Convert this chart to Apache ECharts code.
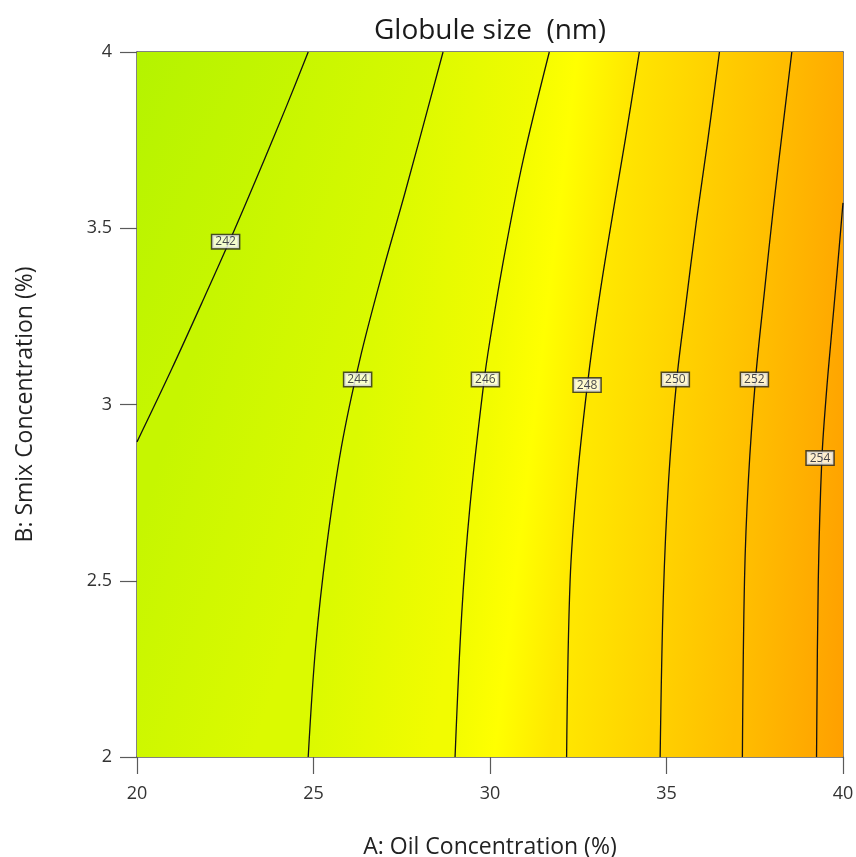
<!DOCTYPE html>
<html>
<head>
<meta charset="utf-8">
<title>Globule size contour</title>
<script src="https://cdn.jsdelivr.net/npm/echarts@6/dist/echarts.min.js"></script>
<style>
  html, body { margin: 0; padding: 0; background: #ffffff; }
  #chart { width: 856px; height: 857px; }
</style>
</head>
<body>
<div id="chart"></div>
<script>
// Response surface: globule size (nm) over oil and Smix concentration.
const xTicks = [20, 25, 30, 35, 40];
const yTicks = [2, 2.5, 3, 3.5, 4];

const levels = [242, 244, 246, 248, 250, 252, 254];

// Contour paths [oil %, Smix %], each running from its lower/left end to its upper/right end.
const contour242 = [[20.0, 2.894], [20.98, 3.1], [21.89, 3.3], [22.78, 3.5], [23.63, 3.7], [24.25, 3.85], [24.85, 4.0]];
const contour244 = [[24.85, 2.0], [25.06, 2.312], [25.37, 2.596], [25.79, 2.879], [26.31, 3.126], [26.95, 3.373], [27.59, 3.6], [28.67, 4.0]];
const contour246 = [[29.01, 2.0], [29.2, 2.408], [29.43, 2.709], [29.81, 3.05], [30.0, 3.183], [30.42, 3.43], [30.94, 3.694], [31.68, 4.0]];
const contour248 = [[32.17, 2.0], [32.27, 2.502], [32.47, 2.786], [32.8, 3.089], [33.13, 3.325], [33.51, 3.56], [33.83, 3.75], [34.23, 4.0]];
const contour250 = [[34.82, 2.0], [34.91, 2.454], [35.06, 2.786], [35.29, 3.07], [35.54, 3.277], [35.84, 3.515], [36.17, 3.75], [36.5, 4.0]];
const contour252 = [[37.15, 2.0], [37.21, 2.502], [37.32, 2.786], [37.52, 3.07], [37.78, 3.325], [38.03, 3.56], [38.31, 3.799], [38.55, 4.0]];
const contour254 = [[39.25, 2.0], [39.3, 2.502], [39.4, 2.843], [39.53, 3.033], [39.66, 3.183], [39.83, 3.373], [40.0, 3.572]];
const contours = [contour242, contour244, contour246, contour248, contour250, contour252, contour254];

// Where each contour value is printed: [oil %, Smix %, level]
const contourLabels = [
  [22.51, 3.462, 242],
  [26.25, 3.071, 244],
  [29.87, 3.071, 246],
  [32.75, 3.055, 248],
  [35.25, 3.071, 250],
  [37.49, 3.071, 252],
  [39.35, 2.848, 254]
];

// Fill colours: top-left corner, each contour level, bottom-right corner.
const cornerLowColor = '#b4f300';
const levelColors = ['#c6f600', '#dbfa00', '#f2fc00', '#ffe700', '#ffd100', '#ffbd00', '#ffa900'];
const cornerHighColor = '#ff9f00';

const X0 = 20, X1 = 40, Y0 = 2, Y1 = 4;

// Position of a boundary point along the plot perimeter (clockwise from bottom-left).
function perimT(p) {
  const eps = 1e-6;
  if (p[0] <= X0 + eps) return (p[1] - Y0) / (Y1 - Y0);
  if (p[1] >= Y1 - eps) return 1 + (p[0] - X0) / (X1 - X0);
  if (p[0] >= X1 - eps) return 2 + (Y1 - p[1]) / (Y1 - Y0);
  return 3 + (X1 - p[0]) / (X1 - X0);
}
const corners = [[X0, Y0], [X0, Y1], [X1, Y1], [X1, Y0]];
function walk(t0, t1) {
  const d = (((t1 - t0) % 4) + 4) % 4;
  const out = [];
  for (let k = 0; k < 4; k++) {
    const dk = (((k - t0) % 4) + 4) % 4;
    if (dk > 1e-9 && dk < d - 1e-9) out.push([dk, corners[k]]);
  }
  out.sort((a, b) => a[0] - b[0]);
  return out.map(o => o[1]);
}

// Bands between consecutive contours (plus the two corner regions).
const bandEdges = [[[X0, Y1]]].concat(contours).concat([[[X1, Y0]]]);
const bandColors = [cornerLowColor].concat(levelColors).concat([cornerHighColor]);
const bands = [];
for (let i = 0; i < bandEdges.length - 1; i++) {
  const A = bandEdges[i], B = bandEdges[i + 1];
  const poly = []
    .concat(A)
    .concat(walk(perimT(A[A.length - 1]), perimT(B[B.length - 1])))
    .concat(B.slice().reverse())
    .concat(walk(perimT(B[0]), perimT(A[0])));
  const stops = [[0, bandColors[i]], [1, bandColors[i + 1]]];
  if (i === 3) stops.splice(1, 0, [0.45, '#ffff00']);
  bands.push({ A: A, B: B, poly: poly, stops: stops });
}

function centroid(pts) {
  let sx = 0, sy = 0;
  pts.forEach(p => { sx += p[0]; sy += p[1]; });
  return [sx / pts.length, sy / pts.length];
}
function chordDir(pts) {
  if (pts.length < 2) return null;
  const a = pts[0], b = pts[pts.length - 1];
  const dx = b[0] - a[0], dy = b[1] - a[1];
  const L = Math.hypot(dx, dy) || 1;
  return [dx / L, dy / L];
}

function renderBand(params, api) {
  const band = bands[params.dataIndex];
  const toPx = p => api.coord(p);
  const pts = band.poly.map(toPx);
  const Apx = band.A.map(toPx), Bpx = band.B.map(toPx);
  const dA = chordDir(Apx), dB = chordDir(Bpx);
  let u;
  if (dA && dB) u = [dA[0] + dB[0], dA[1] + dB[1]];
  else u = dA || dB;
  const Lu = Math.hypot(u[0], u[1]) || 1;
  u = [u[0] / Lu, u[1] / Lu];
  let n = [-u[1], u[0]];
  const cA = centroid(Apx), cB = centroid(Bpx);
  let proj = (cB[0] - cA[0]) * n[0] + (cB[1] - cA[1]) * n[1];
  if (proj < 0) { n = [-n[0], -n[1]]; proj = -proj; }
  const grad = {
    type: 'linear',
    x: cA[0], y: cA[1],
    x2: cA[0] + n[0] * proj, y2: cA[1] + n[1] * proj,
    global: true,
    colorStops: band.stops.map(s => ({ offset: s[0], color: s[1] }))
  };
  return {
    type: 'polygon',
    shape: { points: pts },
    style: { fill: grad, stroke: grad, lineWidth: 1 },
    silent: true
  };
}

const FONT = '"Open Sans", "Noto Sans", sans-serif';
const axisColor = '#5a5a5a';

const chart = echarts.init(document.getElementById('chart'), null, { renderer: 'canvas' });

const series = [{
  type: 'custom',
  coordinateSystem: 'cartesian2d',
  renderItem: renderBand,
  data: bands.map(() => [30, 3]),
  clip: true,
  silent: true,
  z: 1
}];

contours.forEach((c, i) => {
  series.push({
    name: String(levels[i]),
    type: 'line',
    data: c,
    showSymbol: false,
    smooth: 0.35,
    silent: true,
    lineStyle: { color: '#111111', width: 1.3 },
    z: 3
  });
});

series.push({
  type: 'scatter',
  data: contourLabels,
  symbolSize: 1,
  itemStyle: { color: 'rgba(0,0,0,0)' },
  silent: true,
  z: 5,
  label: {
    show: true,
    position: 'inside',
    formatter: p => String(p.value[2]),
    backgroundColor: '#ffffff',
    borderColor: '#262626',
    borderWidth: 1.5,
    padding: [1, 3, 0, 3],
    fontSize: 12,
    fontFamily: FONT,
    color: '#151828'
  }
});

chart.setOption({
  animation: false,
  backgroundColor: '#ffffff',
  grid: { left: 137, right: 13, top: 52, bottom: 100, containLabel: false, outerBoundsMode: 'none' },
  graphic: [{
    type: 'text',
    x: 490, y: 31,
    style: {
      text: 'Globule size  (nm)',
      font: '28px ' + FONT,
      fill: '#1a1a1a',
      textAlign: 'center',
      textVerticalAlign: 'middle'
    }
  }],
  xAxis: [{
    type: 'value',
    min: xTicks[0], max: xTicks[xTicks.length - 1], interval: 5,
    position: 'bottom',
    axisLine: { show: true, lineStyle: { color: axisColor, width: 1.5 } },
    axisTick: { show: true, length: 17, lineStyle: { color: axisColor, width: 1.2 } },
    axisLabel: { fontSize: 18, color: '#333333', margin: 28, fontFamily: FONT },
    splitLine: { show: false },
    name: 'A: Oil Concentration (%)',
    nameLocation: 'middle',
    nameGap: 79,
    nameTextStyle: { fontSize: 23, color: '#222222', fontFamily: FONT }
  }, {
    type: 'value',
    min: xTicks[0], max: xTicks[xTicks.length - 1],
    position: 'top',
    axisLine: { show: true, onZero: false, lineStyle: { color: axisColor, width: 1.5 } },
    axisTick: { show: false }, axisLabel: { show: false }, splitLine: { show: false }
  }],
  yAxis: [{
    type: 'value',
    min: yTicks[0], max: yTicks[yTicks.length - 1], interval: 0.5,
    position: 'left',
    axisLine: { show: true, lineStyle: { color: axisColor, width: 1.5 } },
    axisTick: { show: true, length: 17, lineStyle: { color: axisColor, width: 1.2 } },
    axisLabel: { fontSize: 18, color: '#333333', margin: 25, fontFamily: FONT },
    splitLine: { show: false },
    name: 'B: Smix Concentration (%)',
    nameLocation: 'middle',
    nameRotate: 90,
    nameGap: 100,
    nameTextStyle: { fontSize: 23, color: '#222222', fontFamily: FONT }
  }, {
    type: 'value',
    min: yTicks[0], max: yTicks[yTicks.length - 1],
    position: 'right',
    axisLine: { show: true, onZero: false, lineStyle: { color: axisColor, width: 1.5 } },
    axisTick: { show: false }, axisLabel: { show: false }, splitLine: { show: false }
  }],
  series: series
});
</script>
</body>
</html>
